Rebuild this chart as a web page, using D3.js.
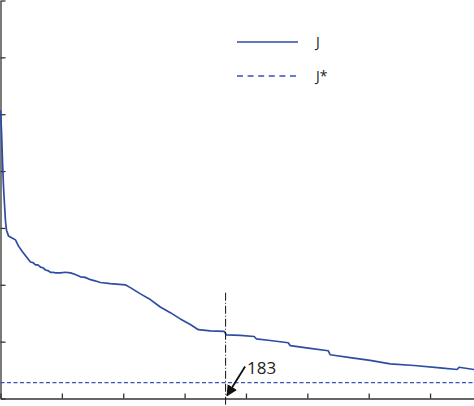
<!DOCTYPE html>
<html>
<head>
<meta charset="utf-8">
<script src="https://cdn.jsdelivr.net/npm/d3@7"></script>
<style>
  html, body { margin: 0; padding: 0; background: #fff; }
  svg { display: block; }
</style>
</head>
<body>
<div id="chart"></div>
<script>
// J cost curve (x = iterations, y = cost in tick units)
const iterX = [0, 0.8, 1.6, 2.4, 3.3, 4.1, 4.9, 6.5, 9.8, 12.2, 14.7, 17.9, 21.2, 24.4, 26.5, 28.5, 30.5,
  32.6, 34.5, 36.6, 38.5, 40.7, 42.5, 44.8, 48.8, 52.9, 57, 61, 65.1, 69, 73.3, 77, 81.4, 89.5, 101.7,
  105.8, 114, 122.1, 130.2, 138.4, 146.5, 154.7, 161.2, 170.9, 182.3, 184, 195.4, 206.7, 208.4, 219.8,
  234.4, 236.1, 252.3, 267, 268.6, 284.9, 301.2, 317.5, 337, 358.2, 372, 373.6, 385.8]
const costJ = [5.07, 4.72, 4.19, 3.75, 3.40, 3.11, 2.96, 2.86, 2.82, 2.79, 2.68, 2.58, 2.49, 2.40, 2.39,
  2.35, 2.35, 2.31, 2.30, 2.26, 2.25, 2.22, 2.22, 2.21, 2.21, 2.22, 2.21, 2.18, 2.14, 2.13, 2.09, 2.07,
  2.04, 2.02, 2.00, 1.95, 1.84, 1.74, 1.61, 1.51, 1.40, 1.30, 1.21, 1.19, 1.18, 1.12, 1.11, 1.09, 1.05,
  1.02, 0.98, 0.93, 0.88, 0.84, 0.77, 0.72, 0.67, 0.61, 0.58, 0.54, 0.51, 0.55, 0.51]
const jStar = 0.28
const markIter = 183
const xTicks = [0, 50, 100, 150, 200, 250, 300, 350]
const yTicks = [0, 1, 2, 3, 4, 5, 6, 7]
const legendNames = ['J', 'J*']

const W = 474, H = 406
const blue = '#2d4ca3'

const svg = d3.select('#chart').append('svg')
  .attr('width', W).attr('height', H)

const x = d3.scaleLinear().domain([0, 385.8]).range([0.5, 474])
const y = d3.scaleLinear().domain([0, 7]).range([398.5, 0.5])

// axes (ticks point inwards, no labels)
svg.append('g')
  .attr('transform', `translate(0,${y(0)})`)
  .call(d3.axisTop(x).tickValues(xTicks).tickSize(5).tickSizeOuter(0).tickFormat(''))
  .call(g => g.selectAll('path,line').attr('stroke', '#333').attr('stroke-width', 1.3))

svg.append('g')
  .attr('transform', `translate(${x(0)},0)`)
  .call(d3.axisRight(y).tickValues(yTicks).tickSize(5).tickSizeOuter(0).tickFormat(''))
  .call(g => g.selectAll('path,line').attr('stroke', '#333').attr('stroke-width', 1.3))

// J* target
svg.append('line')
  .attr('x1', x(0)).attr('x2', W)
  .attr('y1', y(jStar)).attr('y2', y(jStar))
  .attr('stroke', '#3553b8').attr('stroke-width', 1.4)
  .attr('stroke-dasharray', '4,2.5')

// J curve
const pts = iterX.map((d, i) => [d, costJ[i]])
svg.append('path')
  .datum(pts)
  .attr('fill', 'none')
  .attr('stroke', blue).attr('stroke-width', 1.7)
  .attr('stroke-linejoin', 'round')
  .attr('d', d3.line().x(d => x(d[0])).y(d => y(d[1])))

// vertical marker at iteration 183
svg.append('line')
  .attr('x1', x(markIter) + 0.5).attr('x2', x(markIter) + 0.5)
  .attr('y1', y(1.86)).attr('y2', H)
  .attr('stroke', '#111').attr('stroke-width', 1)
  .attr('stroke-dasharray', '8,2,1,2')

// arrow + label
svg.append('defs').append('marker')
  .attr('id', 'head').attr('viewBox', '0 0 10 10')
  .attr('refX', 9).attr('refY', 5)
  .attr('markerWidth', 11).attr('markerHeight', 11)
  .attr('markerUnits', 'userSpaceOnUse')
  .attr('orient', 'auto')
  .append('path').attr('d', 'M0,0 L10,5 L0,10 Z').attr('fill', '#111')

const tipX = x(markIter) + 2, tipY = y(0) - 3
svg.append('line')
  .attr('x1', tipX + 18).attr('y1', tipY - 29)
  .attr('x2', tipX).attr('y2', tipY)
  .attr('stroke', '#111').attr('stroke-width', 1.8)
  .attr('marker-end', 'url(#head)')

svg.append('text')
  .attr('x', tipX + 20).attr('y', tipY - 22)
  .attr('font-family', 'Open Sans, sans-serif').attr('font-size', 17)
  .attr('fill', '#222')
  .text(markIter)

// legend
const leg = svg.append('g')
legendNames.forEach((name, i) => {
  const ly = 42 + i * 34
  leg.append('line')
    .attr('x1', 237).attr('x2', 298).attr('y1', ly).attr('y2', ly)
    .attr('stroke', i === 0 ? blue : '#3553b8').attr('stroke-width', i === 0 ? 1.7 : 1.4)
    .attr('stroke-dasharray', i === 0 ? null : '6,4.6')
  leg.append('text')
    .attr('x', 316).attr('y', ly + 5)
    .attr('font-family', 'Open Sans, sans-serif').attr('font-size', 14)
    .attr('fill', '#222')
    .text(name)
})
</script>
</body>
</html>
